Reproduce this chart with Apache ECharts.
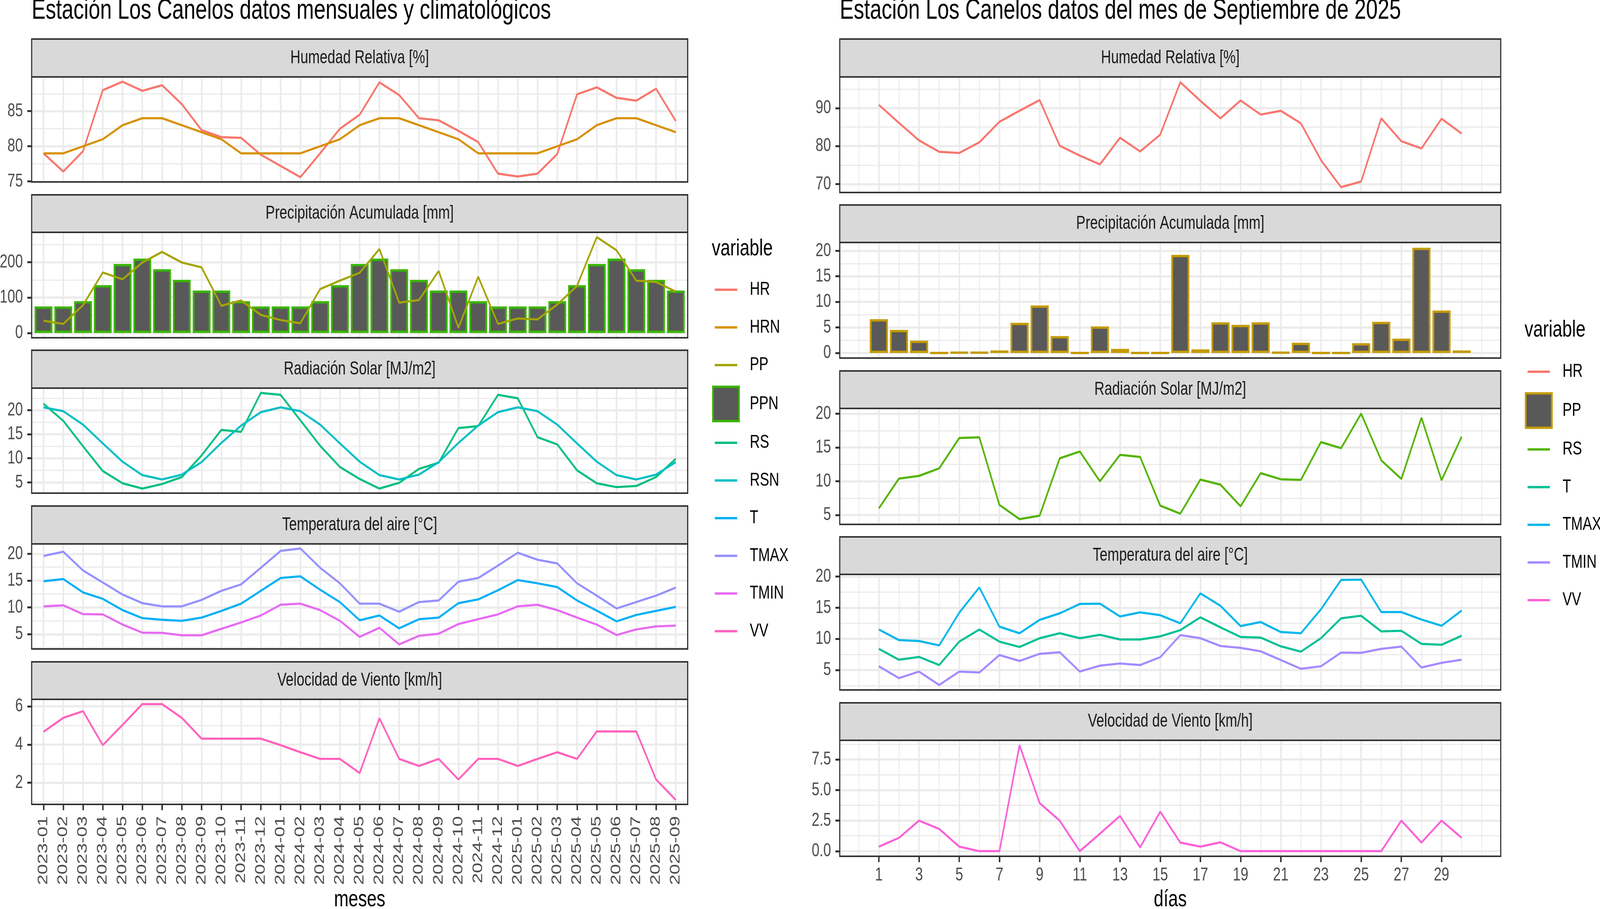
<!DOCTYPE html>
<html>
<head>
<meta charset="utf-8">
<script src="https://cdn.jsdelivr.net/npm/echarts@6/dist/echarts.min.js"></script>
<style>html,body{margin:0;padding:0;background:#fff;overflow:hidden}#c{width:5512px;height:2328px;transform-origin:0 0}</style>
</head>
<body>
<div id="c"></div>
<script>
// ---------------- DATA: monthly / climatology (left) ----------------
const meses = ['2023-01','2023-02','2023-03','2023-04','2023-05','2023-06','2023-07','2023-08','2023-09','2023-10','2023-11','2023-12',
               '2024-01','2024-02','2024-03','2024-04','2024-05','2024-06','2024-07','2024-08','2024-09','2024-10','2024-11','2024-12',
               '2025-01','2025-02','2025-03','2025-04','2025-05','2025-06','2025-07','2025-08','2025-09'];
const HR   = [79.0,76.4,79.3,88.0,89.2,87.9,88.7,86.0,82.3,81.3,81.2,78.8,77.2,75.6,79.0,82.5,84.5,89.1,87.3,84.0,83.7,82.2,80.6,76.1,75.7,76.1,78.9,87.4,88.4,86.9,86.5,88.2,83.6];
const HRN  = [79,79,80,81,83,84,84,83,82,81,79,79,79,79,80,81,83,84,84,83,82,81,79,79,79,79,80,81,83,84,84,83,82];
const PP   = [34.7,25.5,78.5,170.8,151.5,198.9,229,199,185.4,76.6,92,51,36.5,27.4,124,148,170,237,85.8,93,175,14.6,158.8,25.5,40.9,38.3,80.3,133,270.8,233.6,147.8,144,116.8];
const PPN  = [75,75,90,135,195,210,180,150,120,120,90,75,75,75,90,135,195,210,180,150,120,120,90,75,75,75,90,135,195,210,180,150,120];
const RS   = [21.35,17.8,12.5,7.35,4.8,3.7,4.65,6.1,10.6,15.9,15.5,23.6,23.2,17.9,12.6,8.2,5.7,3.7,4.9,7.8,9.1,16.3,16.7,23.2,22.5,14.4,12.9,7.5,4.8,4.0,4.25,6.1,9.9];
const RSN  = [20.6,19.8,17.0,13.1,9.3,6.5,5.6,6.6,9.2,13.2,16.8,19.6,20.6,19.8,17.0,13.1,9.3,6.5,5.6,6.6,9.2,13.2,16.8,19.6,20.6,19.8,17.0,13.1,9.3,6.5,5.6,6.6,9.2];
const T    = [14.9,15.3,12.8,11.6,9.5,8.0,7.7,7.5,8.1,9.35,10.7,13.1,15.5,15.8,13.3,11.0,7.6,8.5,6.1,7.8,8.1,10.8,11.5,13.2,15.1,14.5,13.8,11.3,9.4,7.4,8.6,9.35,10.1];
const TMAX = [19.6,20.4,16.9,14.65,12.4,10.8,10.2,10.2,11.4,13.1,14.3,17.4,20.55,21.0,17.4,14.5,10.7,10.7,9.2,11.0,11.3,14.8,15.5,17.8,20.2,18.9,18.2,14.5,12.2,9.8,11.0,12.2,13.7];
const TMIN = [10.2,10.4,8.75,8.7,6.8,5.3,5.25,4.8,4.8,6.0,7.2,8.5,10.5,10.7,9.5,7.5,4.5,6.2,3.1,4.7,5.1,6.9,7.8,8.7,10.2,10.5,9.5,8.1,6.8,4.85,5.9,6.45,6.6];
const VV   = [4.67,5.4,5.75,3.97,5.03,6.12,6.12,5.4,4.31,4.31,4.31,4.31,3.97,3.6,3.25,3.25,2.51,5.38,3.25,2.88,3.25,2.17,3.25,3.25,2.88,3.25,3.6,3.25,4.69,4.69,4.69,2.17,1.1];

// ---------------- DATA: daily September 2025 (right) ----------------
const dias     = [1,2,3,4,5,6,7,8,9,10,11,12,13,14,15,16,17,18,19,20,21,22,23,24,25,26,27,28,29,30];
const HR_dia   = [90.85,86.1,81.5,78.5,78.2,81.0,86.4,89.3,92.1,80.1,77.5,75.2,82.2,78.6,83.0,96.8,91.9,87.3,92.0,88.3,89.3,86.0,76.3,69.2,70.7,87.3,81.3,79.4,87.2,83.3];
const PP_dia   = [6.6,4.5,2.4,0,0.1,0.1,0.5,5.9,9.3,3.3,0,5.2,0.8,0,0,19.2,0.7,6.0,5.5,6.0,0.1,2.0,0,0,1.9,6.1,2.8,20.6,8.3,0.5];
const RS_dia   = [6.0,10.4,10.8,11.9,16.4,16.5,6.5,4.4,4.9,13.4,14.4,10.0,13.9,13.6,6.4,5.2,10.25,9.5,6.3,11.2,10.3,10.2,15.8,14.9,20.0,13.1,10.35,19.4,10.15,16.6];
const T_dia    = [8.4,6.65,7.1,5.8,9.55,11.5,9.55,8.7,10.1,10.9,10.1,10.65,9.9,9.9,10.4,11.4,13.45,11.85,10.3,10.2,8.8,7.95,10.1,13.3,13.7,11.2,11.3,9.2,9.05,10.5];
const TMAX_dia = [11.5,9.8,9.65,8.95,14.2,18.25,11.95,10.9,13.05,14.1,15.6,15.65,13.6,14.25,13.8,12.5,17.3,15.3,12.05,12.7,11.1,10.9,14.75,19.45,19.5,14.3,14.3,13.1,12.1,14.55];
const TMIN_dia = [5.6,3.7,4.75,2.6,4.75,4.6,7.4,6.45,7.6,7.85,4.75,5.7,6.05,5.8,7.05,10.6,10.1,8.85,8.55,8.0,6.6,5.2,5.6,7.8,7.75,8.4,8.75,5.4,6.15,6.65];
const VV_dia   = [0.37,1.09,2.5,1.82,0.37,0,0,8.67,3.93,2.49,0,1.43,2.88,0.31,3.23,0.7,0.37,0.72,0,0,0,0,0,0,0,0,2.5,0.7,2.5,1.09];

// ---------------- TICK LABELS ----------------
const mesIdx       = [0,1,2,3,4,5,6,7,8,9,10,11,12,13,14,15,16,17,18,19,20,21,22,23,24,25,26,27,28,29,30,31,32];
const diasTicks    = [1,3,5,7,9,11,13,15,17,19,21,23,25,27,29];
const diasMinor    = [0,1,2,3,4,5,6,7,8,9,10,11,12,13,14,15,16,17,18,19,20,21,22,23,24,25,26,27,28,29,30,31];
const ticksHR_L    = [75,80,85];        const minorHR_L = [77.5,82.5,87.5];
const ticksPP_L    = [0,100,200];       const minorPP_L = [50,150,250];
const ticksRS_L    = [5,10,15,20];      const minorRS_L = [7.5,12.5,17.5,22.5];
const ticksT_L     = [5,10,15,20];      const minorT_L  = [2.5,7.5,12.5,17.5];
const ticksVV_L    = [2,4,6];           const minorVV_L = [1,3,5];
const ticksHR_R    = [70,80,90];        const minorHR_R = [75,85,95];
const ticksPP_R    = [0,5,10,15,20];    const minorPP_R = [2.5,7.5,12.5,17.5];
const ticksRS_R    = [5,10,15,20];      const minorRS_R = [7.5,12.5,17.5];
const ticksT_R     = [5,10,15,20];      const minorT_R  = [2.5,7.5,12.5,17.5];
const ticksVV_R    = [0,2.5,5,7.5];     const minorVV_R = [1.25,3.75,6.25,8.75];

// ---------------- LAYOUT / STYLE ----------------
const W = 5512, H = 2328;
const FONT = '"Liberation Sans", Arial, Helvetica, sans-serif';
const LEFT  = {left:109,  width:2260, xmin:-0.6,   xmax:32.6,   xMajor:mesIdx,    xMinor:null,      xName:'meses', nameGap:214};
const RIGHT = {left:2893, width:2277, xmin:-0.945, xmax:31.945, xMajor:diasTicks, xMinor:diasMinor, xName:'días',  nameGap:81};

const leftPanels = [
  {title:'Humedad Relativa [%]',        strip:100,  top:197,  bottom:466,  min:74.92, max:89.88, major:ticksHR_L, minor:minorHR_L},
  {title:'Precipitación Acumulada [mm]', strip:499,  top:595,  bottom:865,  min:-13.5, max:284.3, major:ticksPP_L, minor:minorPP_L},
  {title:'Radiación Solar [MJ/m2]',      strip:897,  top:994,  bottom:1263, min:2.75,  max:24.6,  major:ticksRS_L, minor:minorRS_L},
  {title:'Temperatura del aire [°C]',    strip:1296, top:1393, bottom:1662, min:2.25,  max:21.85, major:ticksT_L,  minor:minorT_L},
  {title:'Velocidad de Viento [km/h]',   strip:1695, top:1791, bottom:2060, min:0.87,  max:6.37,  major:ticksVV_L, minor:minorVV_L}
];
const rightPanels = [
  {title:'Humedad Relativa [%]',        strip:100,  top:197,  bottom:493,  min:67.8,  max:98.2,  major:ticksHR_R, minor:minorHR_R},
  {title:'Precipitación Acumulada [mm]', strip:525,  top:621,  bottom:917,  min:-1.0,  max:21.63, major:ticksPP_R, minor:minorPP_R},
  {title:'Radiación Solar [MJ/m2]',      strip:950,  top:1046, bottom:1343, min:3.62,  max:20.78, major:ticksRS_R, minor:minorRS_R},
  {title:'Temperatura del aire [°C]',    strip:1375, top:1471, bottom:1767, min:1.8,   max:20.35, major:ticksT_R,  minor:minorT_R},
  {title:'Velocidad de Viento [km/h]',   strip:1800, top:1896, bottom:2193, min:-0.42, max:9.07,  major:ticksVV_R, minor:minorVV_R, fmt:v=>v.toFixed(1)}
];

const grids=[], xAxes=[], yAxes=[], series=[], elements=[];
const GRID_MAJOR = {color:'#EBEBEB', width:5.5};
const GRID_MINOR = {color:'#EBEBEB', width:2.8};
const TICK = {length:15, lineStyle:{color:'#333333', width:5}};
const LABEL = {fontFamily:FONT, fontSize:48, color:'#4D4D4D'};

function addPanel(p, side, isBottom){
  const gi = grids.length;
  grids.push({left:side.left, top:p.top, width:side.width, height:p.bottom-p.top, show:false, containLabel:false, outerBoundsMode:'none'});
  const xi = xAxes.length;
  const isLeft = side === LEFT;
  xAxes.push({
    type:'value', gridIndex:gi, min:side.xmin, max:side.xmax, position:'bottom',
    axisLine:{show:false, onZero:false},
    axisTick:Object.assign({show:isBottom, customValues:side.xMajor}, TICK),
    axisLabel:Object.assign({show:isBottom, customValues:side.xMajor,
      margin: isLeft ? 30 : 25, rotate: isLeft ? 90 : 0,
      formatter: isLeft ? (v => meses[Math.round(v)]) : (v => String(v))}, LABEL),
    splitLine:{show:true, customValues:side.xMajor, lineStyle:GRID_MAJOR},
    name: isBottom ? side.xName : '', nameLocation:'middle', nameGap:side.nameGap, nameMoveOverlap:false,
    nameTextStyle:{fontFamily:FONT, fontSize:60, color:'#000000'}
  });
  if (side.xMinor){
    xAxes.push({type:'value', gridIndex:gi, min:side.xmin, max:side.xmax, position:'top', z:0,
      axisLine:{show:false, onZero:false}, axisTick:{show:false, customValues:side.xMinor},
      axisLabel:{show:false, customValues:side.xMinor},
      splitLine:{show:true, customValues:side.xMinor, lineStyle:GRID_MINOR}});
  }
  const yi = yAxes.length;
  yAxes.push({
    type:'value', gridIndex:gi, min:p.min, max:p.max, position:'left',
    axisLine:{show:false, onZero:false},
    axisTick:Object.assign({show:true, customValues:p.major}, TICK),
    axisLabel:Object.assign({customValues:p.major, margin:30, formatter: p.fmt || (v=>String(v))}, LABEL),
    splitLine:{show:true, customValues:p.major, lineStyle:GRID_MAJOR}
  });
  yAxes.push({
    type:'value', gridIndex:gi, min:p.min, max:p.max, position:'right', z:0,
    axisLine:{show:false, onZero:false}, axisTick:{show:false, customValues:p.minor},
    axisLabel:{show:false, customValues:p.minor},
    splitLine:{show:true, customValues:p.minor, lineStyle:GRID_MINOR}
  });
  // facet strip + panel border (decoration)
  elements.push({type:'rect', z:100, silent:true,
    shape:{x:side.left, y:p.strip, width:side.width, height:p.top-p.strip},
    style:{fill:'#D9D9D9', stroke:'#333333', lineWidth:4}});
  elements.push({type:'text', z:101, silent:true, x:side.left+side.width/2, y:(p.strip+p.top)/2,
    style:{text:p.title, fontFamily:FONT, fontSize:48, fill:'#1A1A1A',
      align:'center', verticalAlign:'middle', textAlign:'center', textVerticalAlign:'middle'}});
  elements.push({type:'rect', z:100, silent:true,
    shape:{x:side.left, y:p.top, width:side.width, height:p.bottom-p.top},
    style:{fill:'none', stroke:'#333333', lineWidth:4}});
  return {xi, yi};
}

function lineSeries(name, ax, xs, vals, color){
  return {type:'line', name, xAxisIndex:ax.xi, yAxisIndex:ax.yi, z:3,
    data: vals.map((v,i)=>[xs[i], v]), symbol:'none', showSymbol:false,
    lineStyle:{color, width:5.5}, itemStyle:{color}, animation:false};
}
function barSeries(name, ax, xs, vals, border){
  return {type:'bar', name, xAxisIndex:ax.xi, yAxisIndex:ax.yi, z:2, barWidth:'90%', barMinHeight:0,
    data: vals.map((v,i)=>[xs[i], v]),
    itemStyle:{color:'#595959', borderColor:border, borderWidth:6}, animation:false};
}

// left panels
const aL = leftPanels.map((p,i)=>addPanel(p, LEFT, i===4));
series.push(lineSeries('HR',  aL[0], mesIdx, HR,  '#F8766D'));
series.push(lineSeries('HRN', aL[0], mesIdx, HRN, '#D89000'));
series.push(barSeries ('PPN', aL[1], mesIdx, PPN, '#39B600'));
series.push(lineSeries('PP',  aL[1], mesIdx, PP,  '#A3A500'));
series.push(lineSeries('RS',  aL[2], mesIdx, RS,  '#00BF7D'));
series.push(lineSeries('RSN', aL[2], mesIdx, RSN, '#00BFC4'));
series.push(lineSeries('T',   aL[3], mesIdx, T,   '#00B0F6'));
series.push(lineSeries('TMAX',aL[3], mesIdx, TMAX,'#9590FF'));
series.push(lineSeries('TMIN',aL[3], mesIdx, TMIN,'#E76BF3'));
series.push(lineSeries('VV',  aL[4], mesIdx, VV,  '#FF62BC'));

// right panels
const aR = rightPanels.map((p,i)=>addPanel(p, RIGHT, i===4));
series.push(lineSeries('HR_d',  aR[0], dias, HR_dia,  '#F8766D'));
series.push(barSeries ('PP_d',  aR[1], dias, PP_dia,  '#C49A00'));
series.push(lineSeries('RS_d',  aR[2], dias, RS_dia,  '#53B400'));
series.push(lineSeries('T_d',   aR[3], dias, T_dia,   '#00C094'));
series.push(lineSeries('TMAX_d',aR[3], dias, TMAX_dia,'#00B6EB'));
series.push(lineSeries('TMIN_d',aR[3], dias, TMIN_dia,'#A58AFF'));
series.push(lineSeries('VV_d',  aR[4], dias, VV_dia,  '#FB61D7'));

// titles
function txt(x, y, text, size){
  return {type:'text', z:101, silent:true, x, y,
    style:{text, fontFamily:FONT, fontSize:size, fill:'#000',
      align:'left', verticalAlign:'middle', textAlign:'left', textVerticalAlign:'middle'}};
}
elements.push(txt(109,  28, 'Estación Los Canelos datos mensuales y climatológicos', 72));
elements.push(txt(2893, 28, 'Estación Los Canelos datos del mes de Septiembre de 2025', 72));
elements.push(txt(2452, 637, 'variable', 60));
elements.push(txt(5252, 845, 'variable', 60));

// legends
const LINE_ICON = 'path://M0,0L0.01,0M0,41L77,41L77,47L0,47ZM77,88L76.99,88';
function lineItem(name, color){ return {name, icon:LINE_ICON, itemStyle:{color, borderWidth:0}}; }
function rectItem(name, border){ return {name, icon:'rect', itemStyle:{color:'#595959', borderColor:border, borderWidth:6}}; }
const legendBase = {orient:'vertical', itemWidth:90, itemHeight:88, itemGap:8.5, padding:0,
  selectedMode:false, symbolKeepAspect:true,
  textStyle:{fontFamily:FONT, fontSize:48, color:'#000', padding:[0,0,0,32]}};

const option = {
  backgroundColor:'#ffffff',
  animation:false,
  grid:grids, xAxis:xAxes, yAxis:yAxes, series,
  legend:[
    Object.assign({}, legendBase, {left:2453, top:698, data:[
      lineItem('HR','#F8766D'), lineItem('HRN','#D89000'), lineItem('PP','#A3A500'), rectItem('PPN','#39B600'),
      lineItem('RS','#00BF7D'), lineItem('RSN','#00BFC4'), lineItem('T','#00B0F6'), lineItem('TMAX','#9590FF'),
      lineItem('TMIN','#E76BF3'), lineItem('VV','#FF62BC')]}),
    Object.assign({}, legendBase, {left:5253, top:908, formatter:n=>n.replace('_d',''), data:[
      lineItem('HR_d','#F8766D'), rectItem('PP_d','#C49A00'), lineItem('RS_d','#53B400'), lineItem('T_d','#00C094'),
      lineItem('TMAX_d','#00B6EB'), lineItem('TMIN_d','#A58AFF'), lineItem('VV_d','#FB61D7')]})
  ],
  graphic:{elements}
};

// The chart is laid out on the 5512x2328 reference frame; if the browser window is
// narrower (it can be capped), the whole picture is fitted into the window.
const dom = document.getElementById('c');
const sx = Math.min(1, (window.innerWidth || W) / W);
const sy = Math.min(1, (window.innerHeight || H) / H);
if (sx < 1 || sy < 1) dom.style.transform = 'scale(' + sx + ',' + sy + ')';
const chart = echarts.init(dom, null, {renderer:'canvas', width:W, height:H});
chart.setOption(option);
</script>
</body>
</html>
